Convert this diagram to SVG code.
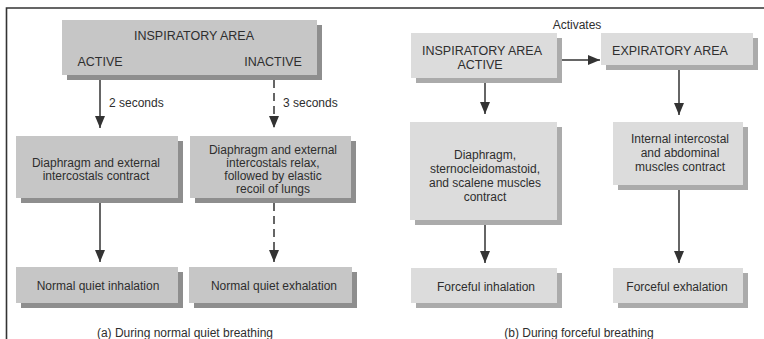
<svg xmlns="http://www.w3.org/2000/svg" width="764" height="339" viewBox="0 0 764 339">
<defs>
<style>
text{font-family:"Liberation Sans",Arial,sans-serif;fill:#2e2e2e;text-anchor:middle;font-size:12px}
.cap{font-size:12.5px}
.bl{fill:#c6c6c6}
.bs{fill:#8e8e8e}
.rl{fill:#dcdcdc}
.rs{fill:#ababab}
.ln{stroke:#333;stroke-width:1.5;fill:none}
.dash{stroke-dasharray:8 5}
</style>
<marker id="ah" viewBox="0 0 12 10" refX="12" refY="5" markerWidth="12" markerHeight="10" markerUnits="userSpaceOnUse" orient="auto">
<path d="M0,0 L12,5 L0,10 Z" fill="#333"/>
</marker>
</defs>
<rect width="764" height="339" fill="#fff"/>
<path d="M6.5,339 V8 H764" stroke="#333" stroke-width="1.6" fill="none"/>

<g id="insp-area">
<rect class="bs" x="67" y="25" width="255" height="55"/>
<rect class="bl" x="62" y="20" width="255" height="55"/>
<text class="cap" x="194" y="39.5">INSPIRATORY AREA</text>
<text class="cap" x="100" y="66">ACTIVE</text>
<text class="cap" x="273" y="66">INACTIVE</text>
</g>
<g id="contract">
<rect class="bs" x="21" y="141" width="162" height="62"/>
<rect class="bl" x="16" y="136" width="162" height="62"/>
<text x="96" y="167">Diaphragm and external</text>
<text x="96" y="180">intercostals contract</text>
</g>
<g id="relax">
<rect class="bs" x="195" y="141" width="161" height="62"/>
<rect class="bl" x="190" y="136" width="161" height="62"/>
<text x="273" y="154">Diaphragm and external</text>
<text x="273" y="167">intercostals relax,</text>
<text x="273" y="180">followed by elastic</text>
<text x="273" y="193">recoil of lungs</text>
</g>
<g id="quiet-inhalation">
<rect class="bs" x="21" y="272" width="162" height="36"/>
<rect class="bl" x="16" y="267" width="162" height="36"/>
<text x="98" y="290">Normal quiet inhalation</text>
</g>
<g id="quiet-exhalation">
<rect class="bs" x="194" y="272" width="163" height="36"/>
<rect class="bl" x="189" y="267" width="163" height="36"/>
<text x="274" y="290">Normal quiet exhalation</text>
</g>
<text x="185" y="337">(a) During normal quiet breathing</text>

<g id="insp-active">
<rect class="rs" x="416" y="38" width="146" height="45"/>
<rect class="rl" x="411" y="33" width="146" height="45"/>
<text class="cap" x="482" y="55">INSPIRATORY AREA</text>
<text class="cap" x="480" y="69">ACTIVE</text>
</g>
<g id="exp-area">
<rect class="rs" x="606" y="38" width="152" height="32"/>
<rect class="rl" x="601" y="33" width="152" height="32"/>
<text class="cap" x="670" y="55">EXPIRATORY AREA</text>
</g>
<g id="force-contract">
<rect class="rs" x="415" y="127" width="147" height="98"/>
<rect class="rl" x="410" y="122" width="147" height="98"/>
<text x="485" y="159">Diaphragm,</text>
<text x="485" y="173">sternocleidomastoid,</text>
<text x="485" y="187">and scalene muscles</text>
<text x="485" y="201">contract</text>
</g>
<g id="internal">
<rect class="rs" x="618" y="127" width="130" height="63"/>
<rect class="rl" x="613" y="122" width="130" height="63"/>
<text x="680" y="143">Internal intercostal</text>
<text x="680" y="157">and abdominal</text>
<text x="680" y="171">muscles contract</text>
</g>
<g id="forceful-inhalation">
<rect class="rs" x="416" y="273" width="146" height="35"/>
<rect class="rl" x="411" y="268" width="146" height="35"/>
<text x="486" y="291">Forceful inhalation</text>
</g>
<g id="forceful-exhalation">
<rect class="rs" x="618" y="273" width="130" height="35"/>
<rect class="rl" x="613" y="268" width="130" height="35"/>
<text x="677" y="291">Forceful exhalation</text>
</g>
<text x="579" y="337">(b) During forceful breathing</text>

<g id="connectors">
<line class="ln" x1="100" y1="80" x2="100" y2="128" marker-end="url(#ah)"/>
<text x="109" y="107" style="text-anchor:start">2 seconds</text>
<line class="ln dash" x1="274" y1="80" x2="274" y2="128" marker-end="url(#ah)"/>
<text x="283" y="107" style="text-anchor:start">3 seconds</text>
<line class="ln" x1="100" y1="203" x2="100" y2="262" marker-end="url(#ah)"/>
<line class="ln dash" x1="274" y1="203" x2="274" y2="262" marker-end="url(#ah)"/>
<line class="ln" x1="562" y1="60" x2="600" y2="60" marker-end="url(#ah)"/>
<text x="577" y="29">Activates</text>
<line class="ln" x1="485" y1="83" x2="485" y2="114" marker-end="url(#ah)"/>
<line class="ln" x1="679" y1="70" x2="679" y2="115" marker-end="url(#ah)"/>
<line class="ln" x1="485" y1="225" x2="485" y2="263" marker-end="url(#ah)"/>
<line class="ln" x1="679" y1="190" x2="679" y2="263" marker-end="url(#ah)"/>
</g>
</svg>
